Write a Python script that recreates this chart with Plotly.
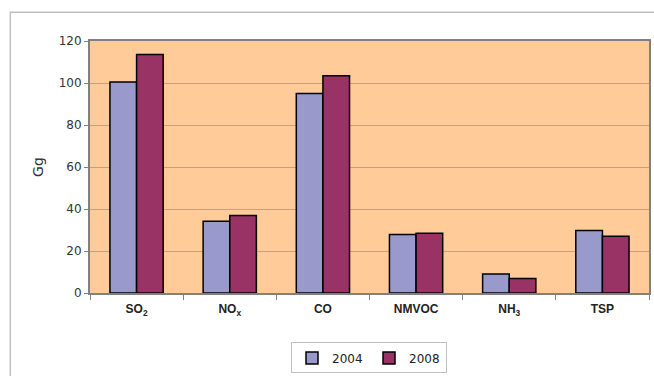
import plotly.graph_objects as go

categories = ["SO<sub>2</sub>", "NO<sub>x</sub>", "CO", "NMVOC", "NH<sub>3</sub>", "TSP"]
values_2004 = [100.5, 34.2, 95.0, 27.8, 9.0, 29.8]
values_2008 = [113.6, 36.9, 103.5, 28.5, 6.9, 27.0]
series_names = ["2004", "2008"]
y_ticks = [0, 20, 40, 60, 80, 100, 120]

W, H = 654, 376
ml, mr, mt, mb = 90, 3, 41, 80
pw = W - ml - mr
ph = H - mt - mb

fig = go.Figure()
fig.add_trace(go.Bar(x=categories, y=values_2004, name=series_names[0],
                     marker=dict(color="#9999CC", line=dict(color="black", width=1.5))))
fig.add_trace(go.Bar(x=categories, y=values_2008, name=series_names[1],
                     marker=dict(color="#993366", line=dict(color="black", width=1.5))))

# outer chart border
fig.add_shape(type="rect", xref="paper", yref="paper",
              x0=(10 - ml) / pw, x1=(W + 20 - ml) / pw,
              y0=-(H + 20 - (mt + ph)) / ph, y1=(mt + ph - 12) / ph,
              line=dict(color="#C0C0C0", width=1.5), fillcolor="rgba(0,0,0,0)", layer="below")

fig.update_layout(
    width=W, height=H,
    margin=dict(l=ml, r=mr, t=mt, b=mb),
    paper_bgcolor="white",
    plot_bgcolor="#FFCC99",
    barmode="group",
    bargap=1.5 / 3.5,
    bargroupgap=0,
    font=dict(family="DejaVu Sans, Verdana, sans-serif", color="#333333"),
    showlegend=True,
    legend=dict(orientation="h", x=(370 - ml) / pw, xanchor="center",
                y=-(346 - (mt + ph)) / ph, yanchor="top",
                bordercolor="#C0C0C0", borderwidth=1, bgcolor="white",
                font=dict(size=12, family="DejaVu Sans, Verdana, sans-serif", color="#222"),
                entrywidth=32, entrywidthmode="pixels", itemwidth=30, tracegroupgap=0),
    xaxis=dict(showline=True, linecolor="#808080", linewidth=2, mirror=True,
               ticks="outside", tickson="boundaries", ticklen=5, tickcolor="#808080",
               ticklabelstandoff=4,
               tickfont=dict(size=12, family="Liberation Sans, Arial, sans-serif",
                             color="#222", weight="bold"),
               showgrid=False),
    yaxis=dict(range=[0, 120], tickvals=y_ticks, showline=True, linecolor="#808080",
               linewidth=2, mirror=True, ticks="outside", ticklen=4, tickcolor="#808080",
               gridcolor="#C8A07A", gridwidth=1, zeroline=False,
               tickfont=dict(size=12, color="#333"),
               title=dict(text="Gg", font=dict(size=14, color="#333"), standoff=12)),
)

fig.write_html("out.html")
